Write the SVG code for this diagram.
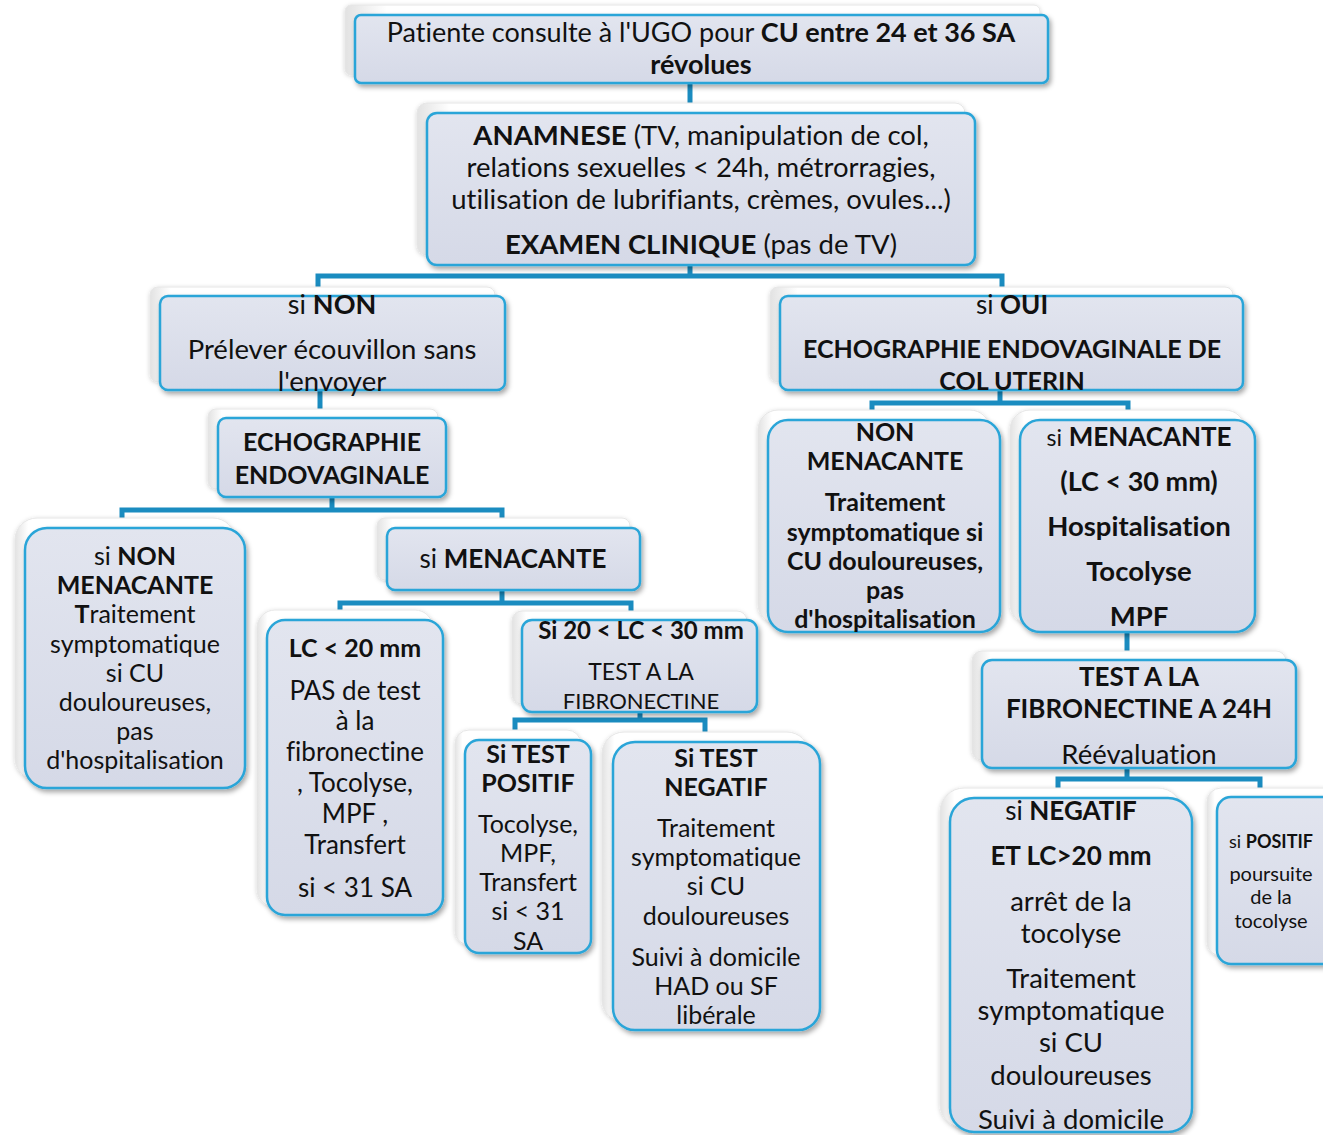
<svg xmlns="http://www.w3.org/2000/svg" width="1323" height="1135" viewBox="0 0 1323 1135">
<defs>
<linearGradient id="gf" x1="0" y1="0" x2="0" y2="1">
<stop offset="0" stop-color="#e2e5ef"/>
<stop offset="1" stop-color="#d5d9e7"/>
</linearGradient>
<linearGradient id="gp" x1="0" y1="0" x2="1" y2="0">
<stop offset="0" stop-color="#e2e2e2"/>
<stop offset="0.06" stop-color="#ffffff"/>
<stop offset="1" stop-color="#ffffff"/>
</linearGradient>
<filter id="sh" x="-10%" y="-10%" width="130%" height="130%">
<feDropShadow dx="2" dy="3" stdDeviation="2.5" flood-color="#000" flood-opacity="0.35"/>
</filter>
<filter id="shp" x="-10%" y="-10%" width="130%" height="130%">
<feDropShadow dx="0" dy="1" stdDeviation="2" flood-color="#000" flood-opacity="0.18"/>
</filter>
</defs>
<style>
.paper{fill:url(#gp);stroke:#e6e6e6;stroke-width:1;filter:url(#shp)}
.box{fill:url(#gf);stroke:#2aa5d8;stroke-width:2.5;filter:url(#sh)}
.conn{stroke:#1a8cc0;stroke-width:5;fill:none}
text{font-family:Lato,"Open Sans","Liberation Sans",sans-serif;font-size:25px;fill:#111;text-anchor:middle;font-variant-ligatures:none}
.b{font-weight:bold}
.s18{font-size:18px}
.s20{font-size:20px}
.s22{font-size:22px}
.s23{font-size:23px}
.s24{font-size:24px}
.s25{font-size:25px}
.s26{font-size:26px}
.s27{font-size:27px}
.s28{font-size:27.5px}
</style>
<rect width="1323" height="1135" fill="#ffffff"/>

<g id="connectors">
<path class="conn" d="M690,83 V113"/>
<path class="conn" d="M690,265 V276"/>
<path class="conn" d="M318,296 V276 H1002 V296"/>
<path class="conn" d="M320,390 V418"/>
<path class="conn" d="M332,497 V510"/>
<path class="conn" d="M122,528 V510 H502 V528"/>
<path class="conn" d="M502,590 V603"/>
<path class="conn" d="M340,620 V603 H631 V620"/>
<path class="conn" d="M640,712 V720"/>
<path class="conn" d="M515,740 V720 H705 V742"/>
<path class="conn" d="M1000,390 V403"/>
<path class="conn" d="M872,420 V403 H1128 V420"/>
<path class="conn" d="M1127,632 V660"/>
<path class="conn" d="M1127,768 V779"/>
<path class="conn" d="M1058,798 V779 H1260 V797"/>
</g>

<g id="n1">
<rect class="paper" x="345" y="5" width="695" height="70" rx="6"/>
<rect class="box" x="355" y="15" width="693" height="68" rx="6"/>
<text x="701" y="42" class="s27">Patiente consulte à l'UGO pour <tspan class="b">CU entre 24 et 36 SA</tspan></text>
<text x="701" y="74" class="s27 b">révolues</text>
</g>

<g id="n2">
<rect class="paper" x="417" y="103" width="548" height="152" rx="10"/>
<rect class="box" x="427" y="113" width="548" height="152" rx="10"/>
<text x="701" y="145" class="s28"><tspan class="b">ANAMNESE</tspan> (TV, manipulation de col,</text>
<text x="701" y="177" class="s28">relations sexuelles &lt; 24h, métrorragies,</text>
<text x="701" y="209" class="s28">utilisation de lubrifiants, crèmes, ovules...)</text>
<text x="701" y="254" class="s28"><tspan class="b">EXAMEN CLINIQUE</tspan> (pas de TV)</text>
</g>

<g id="n3">
<rect class="paper" x="150" y="287" width="345" height="95" rx="8"/>
<rect class="box" x="160" y="296" width="345" height="94" rx="8"/>
<text x="332" y="314" class="s27">si <tspan class="b">NON</tspan></text>
<text x="332" y="359" class="s28">Prélever écouvillon sans</text>
<text x="332" y="391" class="s28">l'envoyer</text>
</g>

<g id="n4">
<rect class="paper" x="208" y="409" width="230" height="80" rx="8"/>
<rect class="box" x="218" y="418" width="228" height="79" rx="8"/>
<text x="332" y="451" class="b">ECHOGRAPHIE</text>
<text x="332" y="484" class="b">ENDOVAGINALE</text>
</g>

<g id="n5">
<rect class="paper" x="15" y="518" width="220" height="262" rx="22"/>
<rect class="box" x="25" y="528" width="220" height="260" rx="22"/>
<text x="135" y="565">si <tspan class="b">NON</tspan></text>
<text x="135" y="594" class="b">MENACANTE</text>
<text x="135" y="623"><tspan class="b">T</tspan>raitement</text>
<text x="135" y="653">symptomatique</text>
<text x="135" y="682">si CU</text>
<text x="135" y="711">douloureuses,</text>
<text x="135" y="740">pas</text>
<text x="135" y="769">d'hospitalisation</text>
</g>

<g id="n6">
<rect class="paper" x="377" y="518" width="253" height="62" rx="8"/>
<rect class="box" x="387" y="528" width="253" height="62" rx="8"/>
<text x="513" y="568" class="s26">si <tspan class="b">MENACANTE</tspan></text>
</g>

<g id="n7">
<rect class="paper" x="257" y="610" width="176" height="297" rx="18"/>
<rect class="box" x="267" y="620" width="176" height="295" rx="18"/>
<text x="355" y="657" class="b">LC &lt; 20 mm</text>
<text x="355" y="700" class="s26">PAS de test</text>
<text x="355" y="730" class="s26">à la</text>
<text x="355" y="761" class="s26">fibronectine</text>
<text x="355" y="792" class="s26">, Tocolyse,</text>
<text x="355" y="823" class="s26">MPF ,</text>
<text x="355" y="854" class="s26">Transfert</text>
<text x="355" y="897" class="s26">si &lt; 31 SA</text>
</g>

<g id="n8">
<rect class="paper" x="512" y="611" width="235" height="93" rx="10"/>
<rect class="box" x="522" y="620" width="235" height="92" rx="10"/>
<text x="641" y="639" class="b s24">Si 20 &lt; LC &lt; 30 mm</text>
<text x="641" y="680" class="s23">TEST A LA</text>
<text x="641" y="709" class="s22">FIBRONECTINE</text>
</g>

<g id="n9">
<rect class="paper" x="455" y="730" width="126" height="215" rx="14"/>
<rect class="box" x="465" y="740" width="126" height="213" rx="14"/>
<text x="528" y="763" class="b">Si TEST</text>
<text x="528" y="792" class="b">POSITIF</text>
<text x="528" y="833">Tocolyse,</text>
<text x="528" y="862">MPF,</text>
<text x="528" y="891">Transfert</text>
<text x="528" y="920">si &lt; 31</text>
<text x="528" y="950">SA</text>
</g>

<g id="n10">
<rect class="paper" x="602" y="732" width="207" height="290" rx="22"/>
<rect class="box" x="613" y="742" width="207" height="288" rx="22"/>
<text x="716" y="767" class="b">Si TEST</text>
<text x="716" y="796" class="b">NEGATIF</text>
<text x="716" y="837">Traitement</text>
<text x="716" y="866">symptomatique</text>
<text x="716" y="895">si CU</text>
<text x="716" y="925">douloureuses</text>
<text x="716" y="966">Suivi à domicile</text>
<text x="716" y="995">HAD ou SF</text>
<text x="716" y="1024">libérale</text>
</g>

<g id="n11">
<rect class="paper" x="770" y="287" width="463" height="95" rx="8"/>
<rect class="box" x="780" y="296" width="463" height="94" rx="8"/>
<text x="1012" y="314" class="s26">si <tspan class="b">OUI</tspan></text>
<text x="1012" y="358" class="b">ECHOGRAPHIE ENDOVAGINALE DE</text>
<text x="1012" y="390" class="b">COL UTERIN</text>
</g>

<g id="n12">
<rect class="paper" x="758" y="410" width="232" height="214" rx="20"/>
<rect class="box" x="768" y="420" width="232" height="212" rx="20"/>
<text x="885" y="441" class="b">NON</text>
<text x="885" y="470" class="b">MENACANTE</text>
<text x="885" y="511" class="b">Traitement</text>
<text x="885" y="541" class="b">symptomatique si</text>
<text x="885" y="570" class="b">CU douloureuses,</text>
<text x="885" y="599" class="b">pas</text>
<text x="885" y="628" class="b">d'hospitalisation</text>
</g>

<g id="n13">
<rect class="paper" x="1010" y="410" width="235" height="214" rx="20"/>
<rect class="box" x="1020" y="420" width="235" height="212" rx="20"/>
<text x="1139" y="446" class="s26"><tspan class="s23">si</tspan> <tspan class="b">MENACANTE</tspan></text>
<text x="1139" y="491" class="b s27">(LC &lt; 30 mm)</text>
<text x="1139" y="536" class="b s28">Hospitalisation</text>
<text x="1139" y="581" class="b s28">Tocolyse</text>
<text x="1139" y="626" class="b s28">MPF</text>
</g>

<g id="n14">
<rect class="paper" x="972" y="651" width="314" height="109" rx="10"/>
<rect class="box" x="982" y="660" width="314" height="108" rx="10"/>
<text x="1139" y="686" class="b s26">TEST A LA</text>
<text x="1139" y="718" class="b s26">FIBRONECTINE A 24H</text>
<text x="1139" y="764" class="s28">Réévaluation</text>
</g>

<g id="n15">
<rect class="paper" x="940" y="788" width="242" height="340" rx="24"/>
<rect class="box" x="950" y="798" width="242" height="334" rx="24"/>
<text x="1071" y="820" class="s26">si <tspan class="b">NEGATIF</tspan></text>
<text x="1071" y="865" class="b s26">ET LC&gt;20 mm</text>
<text x="1071" y="911" class="s28">arrêt de la</text>
<text x="1071" y="943" class="s28">tocolyse</text>
<text x="1071" y="988" class="s28">Traitement</text>
<text x="1071" y="1020" class="s28">symptomatique</text>
<text x="1071" y="1052" class="s28">si CU</text>
<text x="1071" y="1085" class="s28">douloureuses</text>
<text x="1071" y="1129" class="s28">Suivi à domicile</text>
</g>

<g id="n16">
<rect class="paper" x="1207" y="788" width="130" height="168" rx="14"/>
<rect class="box" x="1217" y="797" width="130" height="167" rx="14"/>
<text x="1271" y="848" class="s18">si <tspan class="b">POSITIF</tspan></text>
<text x="1271" y="881" class="s20">poursuite</text>
<text x="1271" y="904" class="s20">de la</text>
<text x="1271" y="928" class="s20">tocolyse</text>
</g>
</svg>
